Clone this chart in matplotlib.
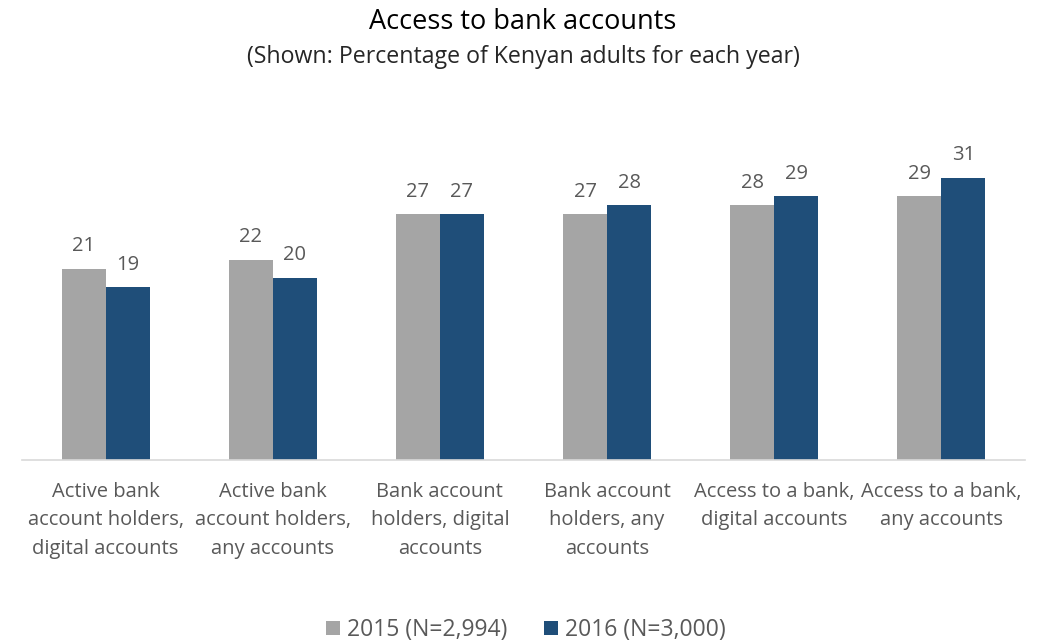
import numpy as np
import matplotlib.pyplot as plt

plt.rcParams['font.family'] = ['Open Sans', 'DejaVu Sans']

categories = [
    'Active bank\naccount holders,\ndigital accounts',
    'Active bank\naccount holders,\nany accounts',
    'Bank account\nholders, digital\naccounts',
    'Bank account\nholders, any\naccounts',
    'Access to a bank,\ndigital accounts',
    'Access to a bank,\nany accounts',
]
values_2015 = [21, 22, 27, 27, 28, 29]
values_2016 = [19, 20, 27, 28, 29, 31]
series_labels = ['2015 (N=2,994)', '2016 (N=3,000)']

GREY = '#A5A5A5'
BLUE = '#1F4E79'
TEXT = '#595959'

fig = plt.figure(figsize=(10.46, 6.42), dpi=100)
ax = fig.add_axes([22 / 1046, 1 - 460 / 642, 1003 / 1046, 318.5 / 642])

x = np.arange(len(categories))
w = 0.263
b1 = ax.bar(x - w / 2, values_2015, w, color=GREY, label=series_labels[0])
b2 = ax.bar(x + w / 2, values_2016, w, color=BLUE, label=series_labels[1])

for bars, vals in ((b1, values_2015), (b2, values_2016)):
    for rect, v in zip(bars, vals):
        ax.annotate(f'{v}', (rect.get_x() + rect.get_width() / 2, v),
                    xytext=(0, 9), textcoords='offset points',
                    ha='center', va='bottom', fontsize=14.5, color=TEXT)

ax.set_xlim(-0.5, len(categories) - 0.5)
ax.set_ylim(0, 35)
ax.set_yticks([])
ax.set_xticks(x)
ax.set_xticklabels(categories, fontsize=14.5, color=TEXT, linespacing=1.55)
ax.tick_params(axis='x', length=0, pad=16)
for side in ('left', 'right', 'top'):
    ax.spines[side].set_visible(False)
ax.spines['bottom'].set_color('#D9D9D9')
ax.spines['bottom'].set_linewidth(1.2)

fig.text(0.5, 1 - 22 / 642, 'Access to bank accounts', ha='center', va='center',
         fontsize=19.5, color='black')
fig.text(0.5, 1 - 57 / 642, '(Shown: Percentage of Kenyan adults for each year)',
         ha='center', va='center', fontsize=16.7, color='#262626')

fig.legend(handles=[b1, b2], labels=series_labels, loc='center',
           bbox_to_anchor=(526 / 1046, 1 - 630 / 642), ncol=2, frameon=False,
           fontsize=16.5, labelcolor=TEXT, handlelength=0.6, handleheight=0.6,
           handletextpad=0.3, columnspacing=1.6)

fig.savefig('out.png', dpi=100)
